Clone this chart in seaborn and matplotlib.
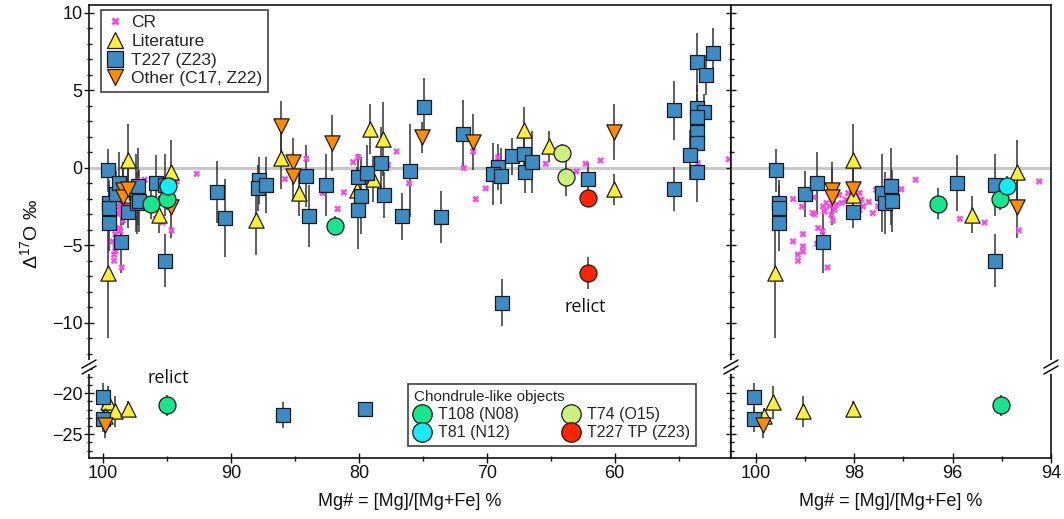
import numpy as np
import matplotlib
matplotlib.use("Agg")
import matplotlib.pyplot as plt
import seaborn as sns
from matplotlib.lines import Line2D
from matplotlib.ticker import MultipleLocator, FixedLocator

sns.set_theme(style="ticks")
plt.rcParams['font.family'] = ['Liberation Sans', 'DejaVu Sans']
plt.rcParams['mathtext.default'] = 'regular'

# ---------------- data ----------------
cr_x = [99.24, 99.24, 99.04, 99.04, 99.04, 99.14, 99.14, 98.84, 98.82, 98.73, 98.64, 98.75, 98.54,
        98.63, 98.56, 98.50, 98.60, 98.43, 98.36, 98.46, 98.43, 98.16, 98.12, 97.89, 97.85, 97.82,
        97.89, 97.55, 97.51, 97.62, 97.04, 96.75, 95.85, 95.35, 94.65, 94.24, 97.34, 92.68, 85.78,
        84.10, 82.84, 81.17, 81.66, 80.44, 80.05, 80.23, 77.71, 77.05, 76.07, 71.80, 71.06, 70.08,
        70.86, 69.12, 65.39, 62.99, 62.27, 61.10, 60.08, 53.49, 51.07,
        98.30, 98.25, 98.40, 97.95, 97.70, 99.06, 98.80]
cr_y = [-2.02, -4.75, -4.28, -5.07, -5.40, -5.60, -6.00, -2.92, -1.91, -3.89, -4.10, -4.90, -6.43,
        -2.49, -2.28, -2.49, -2.82, -2.06, -2.39, -3.03, -3.40, -2.06, -1.63, -1.63, -2.06, -2.49,
        -2.71, -1.42, -2.49, -2.92, -1.38, -0.77, -3.29, -3.53, -4.04, -0.88, -0.84, -0.39, -0.73,
        0.58, -1.63, -1.59, -2.65, 0.37, 0.69, -0.90, 0.19, 1.05, -0.99, -0.02, 1.05, -1.33,
        -2.02, 0.67, 0.26, -0.24, 0.26, 0.47, -1.70, 0.30, 0.55,
        -1.75, -2.25, -2.70, -1.85, -2.20, -2.50, -3.00]

t227_x = [99.59, 99.53, 99.53, 99.53, 99.00, 98.75, 98.63, 98.03, 97.44, 97.24, 97.38, 97.22, 95.90,
          95.14, 95.14, 91.07, 90.47, 87.81, 87.87, 87.29, 84.14, 83.88, 82.58, 80.05, 79.40, 79.87,
          80.08, 78.23, 78.05, 76.02, 76.66, 74.90, 73.59, 71.88, 69.12, 69.51, 68.85, 67.99, 67.11,
          67.03, 66.43, 68.77, 62.08, 55.37, 55.37, 53.57, 52.27, 52.89, 53.57, 53.05, 53.57, 53.57,
          53.57, 54.09, 53.57, 100.04, 100.04, 85.96, 79.53]
t227_y = [-0.17, -2.28, -2.60, -3.57, -1.70, -0.95, -4.80, -2.88, -1.63, -1.20, -2.24, -2.17, -0.99,
          -1.14, -6.00, -1.57, -3.25, -0.82, -1.31, -1.10, -0.52, -3.10, -1.10, -0.60, -0.34, -1.80,
          -2.71, 0.34, -1.74, -0.19, -3.14, 3.92, -3.18, 2.19, 0.04, -0.39, -0.52, 0.73, 0.92,
          -0.30, 0.37, -8.69, -0.71, 3.70, -1.38, 6.82, 7.40, 6.00, 3.85, 3.57, 3.27, 2.34,
          1.59, 0.84, -0.28, -20.5, -23.2, -22.7, -21.9]
t227_err = [1.4, 1.5, 1.5, 1.8, 1.5, 2.0, 2.0, 1.0, 2.5, 2.5, 2.0, 2.0, 1.8,
            2.0, 1.7, 2.0, 2.5, 1.5, 1.5, 1.8, 2.0, 2.0, 2.0, 1.5, 1.8, 2.5,
            2.5, 2.3, 1.5, 3.0, 1.5, 1.9, 1.7, 2.2, 1.5, 2.0, 1.8, 1.2, 1.5,
            1.3, 2.0, 1.5, 1.0, 1.9, 1.4, 1.9, 1.6, 1.3, 1.5, 1.2, 1.5, 1.5,
            1.5, 1.6, 1.9, 1.8, 1.5, 1.6, 0.5]

lit_x = [99.60, 98.03, 98.03, 95.61, 94.70, 88.07, 86.09, 84.66, 79.09, 78.10, 78.90, 80.18, 67.11,
         65.13, 60.08, 99.64, 99.83, 99.04, 98.03]
lit_y = [-6.80, 0.52, -1.74, -3.03, -0.24, -3.35, 0.62, -1.63, 2.52, 1.85, -0.73, -1.42, 2.45,
         1.38, -1.38, -21.1, -22.8, -22.2, -21.95]
lit_err = [4.2, 2.3, 1.0, 1.2, 2.0, 2.3, 2.0, 1.5, 1.6, 2.4, 1.5, 1.5, 1.5,
           1.0, 1.0, 2.0, 1.0, 1.9, 1.0]

oth_x = [98.44, 98.44, 98.03, 94.70, 86.09, 85.15, 85.15, 82.06, 75.05, 71.09, 60.08, 99.85]
oth_y = [-1.42, -1.90, -1.38, -2.50, 2.71, 0.39, -0.56, 1.59, 1.98, 1.66, 2.30, -23.9]
oth_err = [1.8, 1.8, 1.5, 2.0, 1.6, 1.5, 1.5, 1.8, 1.0, 1.8, 1.8, 1.5]

t108_x = [96.29, 95.03, 81.85, 95.02]
t108_y = [-2.32, -2.02, -3.74, -21.46]
t108_err = [1.0, 0.7, 0.6, 1.3]
t81_x = [94.89]
t81_y = [-1.16]
t81_err = [0.6]
t74_x = [64.09, 63.77]
t74_y = [0.95, -0.62]
t74_err = [0.6, 1.2]
tp_x = [62.08, 62.08]
tp_y = [-1.96, -6.80]
tp_err = [0.6, 1.05]

C_CR = "#FF44EE"
C_LIT = "#FFF034"
C_T227 = "#3C8DC5"
C_OTH = "#FF8C00"
C_T108 = "#19E68C"
C_T81 = "#16EBF5"
C_T74 = "#CCF07C"
C_TP = "#FF2400"
EDGE = "#1a1a1a"

# ---------------- figure ----------------
W, H = 1064, 519
fig = plt.figure(figsize=(W / 100, H / 100), dpi=100)


def rect(x0, y0, x1, y1):
    return [x0 / W, 1 - y1 / H, (x1 - x0) / W, (y1 - y0) / H]


axUL = fig.add_axes(rect(89, 5, 731, 367))
axLL = fig.add_axes(rect(89, 367, 731, 458))
axUR = fig.add_axes(rect(731, 5, 1051, 367))
axLR = fig.add_axes(rect(731, 367, 1051, 458))
axes = [axUL, axLL, axUR, axLR]

groups = [
    (cr_x, cr_y, None, 'X', 24, C_CR, 'none', 0, 3),
    (lit_x, lit_y, lit_err, '^', 120, C_LIT, EDGE, 0.9, 4),
    (t227_x, t227_y, t227_err, 's', 88, C_T227, EDGE, 0.9, 5),
    (oth_x, oth_y, oth_err, 'v', 120, C_OTH, EDGE, 0.9, 6),
    (t108_x, t108_y, t108_err, 'o', 150, C_T108, EDGE, 0.9, 7),
    (t81_x, t81_y, t81_err, 'o', 150, C_T81, EDGE, 0.9, 7),
    (t74_x, t74_y, t74_err, 'o', 150, C_T74, EDGE, 0.9, 7),
    (tp_x, tp_y, tp_err, 'o', 150, C_TP, EDGE, 0.9, 7),
]

for ax in axes:
    for gx, gy, ge, mk, s, col, ec, lw, z in groups:
        if ge is not None:
            ax.errorbar(gx, gy, yerr=ge, fmt='none', ecolor='#333333', elinewidth=1.1,
                        capsize=0, zorder=2)
        sns.scatterplot(x=gx, y=gy, ax=ax, marker=mk, s=s, color=col, edgecolor=ec,
                        linewidth=lw, zorder=z, legend=False)

for ax in (axUL, axUR):
    ax.axhline(0, color='#c8c8c8', lw=2.2, zorder=1)
    ax.set_ylim(-12.85, 10.5)
    ax.yaxis.set_major_locator(FixedLocator([-10, -5, 0, 5, 10]))
    ax.yaxis.set_minor_locator(MultipleLocator(1))
for ax in (axLL, axLR):
    ax.set_ylim(-27.9, -16.8)
    ax.yaxis.set_major_locator(FixedLocator([-25, -20]))
    ax.yaxis.set_minor_locator(MultipleLocator(1))

for ax in (axUL, axLL):
    ax.set_xlim(101.1, 50.9)
    ax.xaxis.set_major_locator(FixedLocator([100, 90, 80, 70, 60]))
    ax.xaxis.set_minor_locator(FixedLocator([95, 85, 75, 65, 55]))
for ax in (axUR, axLR):
    ax.set_xlim(100.5, 94.0)
    ax.xaxis.set_major_locator(FixedLocator([100, 98, 96, 94]))
    ax.xaxis.set_minor_locator(FixedLocator([99, 97, 95]))

for ax in axes:
    ax.set_xlabel('')
    ax.set_ylabel('')
    for sp in ax.spines.values():
        sp.set_visible(True)
        sp.set_color('#111111')
        sp.set_linewidth(1.2)
    ax.tick_params(which='both', direction='inout', color='#111111', width=1.0,
                   labelsize=13, labelcolor='#111111', pad=1.5,
                   top=False, right=False, left=True, bottom=True)
    ax.tick_params(which='major', length=6.5)
    ax.tick_params(which='minor', length=3.6)
    ax.set_facecolor('white')

for ax in (axUL, axUR):
    ax.spines['bottom'].set_visible(False)
    ax.tick_params(axis='x', which='both', bottom=False, labelbottom=False)
for ax in (axLL, axLR):
    ax.spines['top'].set_visible(False)
    ax.set_xlabel('Mg# = [Mg]/[Mg+Fe] %', fontsize=13, labelpad=8, color='#111111')
for ax in (axUR, axLR):
    ax.tick_params(axis='y', which='both', labelleft=False)

fig.text(30 / W, 1 - 234 / H, r'$\Delta^{17}$O ‰', rotation=90, ha='center', va='center',
         fontsize=14, color='#111111')

axUL.text(62.3, -9.0, 'relict', ha='center', va='center', fontsize=13,
          family=['Open Sans', 'DejaVu Sans'], color='#111111')
axLL.text(94.9, -18.2, 'relict', ha='center', va='center', fontsize=13,
          family=['Open Sans', 'DejaVu Sans'], color='#111111')

# legends
h1 = [Line2D([], [], ls='', marker='X', ms=6, color=C_CR, mec='none'),
      Line2D([], [], ls='', marker='^', ms=12, mfc=C_LIT, mec=EDGE, mew=0.9),
      Line2D([], [], ls='', marker='s', ms=11, mfc=C_T227, mec=EDGE, mew=0.9),
      Line2D([], [], ls='', marker='v', ms=12, mfc=C_OTH, mec=EDGE, mew=0.9)]
leg1 = axUL.legend(h1, ['CR', 'Literature', 'T227 (Z23)', 'Other (C17, Z22)'],
                   loc='upper left', bbox_to_anchor=(0.0187, 0.986), borderaxespad=0,
                   frameon=True, fancybox=False, edgecolor='#111111', fontsize=12.5,
                   handlelength=1.0, handletextpad=0.45, labelspacing=0.2, borderpad=0.3)
leg1.get_frame().set_linewidth(1.2)
leg1.set_zorder(20)

h2 = [Line2D([], [], ls='', marker='o', ms=14, mfc=C_T108, mec=EDGE, mew=0.9),
      Line2D([], [], ls='', marker='o', ms=14, mfc=C_T81, mec=EDGE, mew=0.9),
      Line2D([], [], ls='', marker='o', ms=14, mfc=C_T74, mec=EDGE, mew=0.9),
      Line2D([], [], ls='', marker='o', ms=14, mfc=C_TP, mec=EDGE, mew=0.9)]
leg2 = axLL.legend(h2, ['T108 (N08)', 'T81 (N12)', 'T74 (O15)', 'T227 TP (Z23)'],
                   loc='lower left', bbox_to_anchor=(0.497, 0.132), borderaxespad=0, ncol=2,
                   title='Chondrule-like objects', title_fontsize=11, alignment='left',
                   frameon=True, fancybox=False, edgecolor='#111111', fontsize=11.5,
                   handlelength=1.0, handletextpad=0.55, labelspacing=0.2, borderpad=0.35,
                   columnspacing=2.7)
leg2.get_frame().set_linewidth(1.2)
leg2.set_zorder(20)

# break marks
def pt(px, py):
    return px / W, 1 - py / H


for bx in (89, 731, 1051):
    x0, y0 = pt(bx, 362)
    x1, y1 = pt(bx, 372)
    fig.add_artist(Line2D([x0, x1], [y0, y1], transform=fig.transFigure, color='white', lw=3,
                          zorder=30))
    for cy in (364, 370):
        a = pt(bx - 7, cy + 4)
        b = pt(bx + 7, cy - 4)
        fig.add_artist(Line2D([a[0], b[0]], [a[1], b[1]], transform=fig.transFigure,
                              color='#111111', lw=1.1, zorder=31))

fig.savefig('out.png', dpi=100, facecolor='white')
